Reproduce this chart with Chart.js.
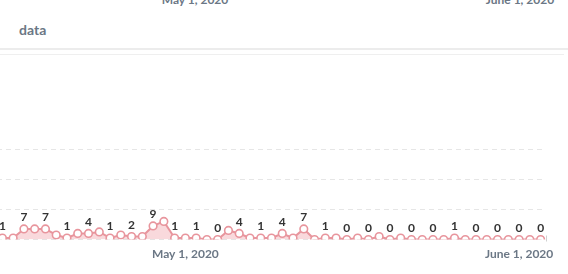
<!DOCTYPE html>
<html>
<head>
<meta charset="utf-8">
<script src="https://cdn.jsdelivr.net/npm/chart.js@4/dist/chart.umd.min.js"></script>
<style>
  html, body { margin:0; padding:0; background:#fff; width:568px; height:274px; overflow:hidden; position:relative; font-family: Lato, sans-serif; }
  .toplbl { position:absolute; top:-8px; font: bold 12px Lato, sans-serif; color:#6b7785; transform:translateX(-50%); white-space:nowrap; line-height:15px; }
  .title { position:absolute; left:19px; top:21px; font: bold 14px Lato, sans-serif; color:#6b7785; line-height:18px; }
  .rule1 { position:absolute; left:0; top:48px; width:568px; height:2px; background:#ececec; }
  .rule2 { position:absolute; left:0; top:54px; width:564px; height:1px; background:#efefef; }
  #c { position:absolute; left:-20px; top:56px; }
</style>
</head>
<body>
<div class="toplbl" style="left:195px">May 1, 2020</div>
<div class="toplbl" style="left:520px">June 1, 2020</div>
<div class="title">data</div>
<div class="rule1"></div>
<div class="rule2"></div>
<canvas id="c" width="600" height="218"></canvas>
<script>
// Categories: one per day
const dates = [
  '2020-04-14','2020-04-15','2020-04-16','2020-04-17','2020-04-18','2020-04-19','2020-04-20',
  '2020-04-21','2020-04-22','2020-04-23','2020-04-24','2020-04-25','2020-04-26','2020-04-27',
  '2020-04-28','2020-04-29','2020-04-30','2020-05-01','2020-05-02','2020-05-03','2020-05-04',
  '2020-05-05','2020-05-06','2020-05-07','2020-05-08','2020-05-09','2020-05-10','2020-05-11',
  '2020-05-12','2020-05-13','2020-05-14','2020-05-15','2020-05-16','2020-05-17','2020-05-18',
  '2020-05-19','2020-05-20','2020-05-21','2020-05-22','2020-05-23','2020-05-24','2020-05-25',
  '2020-05-26','2020-05-27','2020-05-28','2020-05-29','2020-05-30','2020-05-31','2020-06-01',
  '2020-06-02','2020-06-03'
];
// Series values
const values = [
  1,1,7,7,7,3,1,4,4,5,
  1,3,2,2,9,12,1,1,1,0,
  0,6,4,1,1,1,4,1,7,0,
  1,1,0,1,0,2,0,1,0,0,
  0,0,1,0,0,0,0,0,0,0,0
];
// Tick labels
const tickDates = ['2020-05-01', '2020-06-01'];
const tickLabels = ['May 1, 2020', 'June 1, 2020'];
const yMin = 0, yMax = 60, yStep = 20;

const labelPlugin = {
  id: 'pointLabels',
  afterDatasetsDraw(chart) {
    const ctx = chart.ctx;
    const meta = chart.getDatasetMeta(0);
    const area = chart.chartArea;
    ctx.save();
    // small end mark at the right edge of the x axis
    ctx.strokeStyle = '#d0d0d0';
    ctx.lineWidth = 1;
    ctx.beginPath();
    ctx.moveTo(Math.round(area.right) + 0.5, area.bottom - 4);
    ctx.lineTo(Math.round(area.right) + 0.5, area.bottom + 2);
    ctx.stroke();

    ctx.font = 'bold 12px Lato, sans-serif';
    ctx.fillStyle = '#333';
    ctx.textAlign = 'center';
    ctx.textBaseline = 'middle';
    let lastRight = -Infinity;
    meta.data.forEach((pt, i) => {
      const t = String(values[i]);
      const w = ctx.measureText(t).width;
      const pad = 4;
      const l = pt.x - w / 2 - pad, r = pt.x + w / 2 + pad;
      if (l < lastRight) return;
      lastRight = r;
      ctx.fillText(t, pt.x, pt.y - 11.5);
    });
    ctx.restore();
  }
};

new Chart(document.getElementById('c'), {
  type: 'line',
  data: {
    labels: dates,
    datasets: [{
      data: values,
      borderColor: '#e8959d',
      backgroundColor: 'rgba(236,128,140,0.3)',
      fill: 'origin',
      borderWidth: 2,
      tension: 0,
      pointRadius: 3.8,
      pointBorderWidth: 1.6,
      pointBackgroundColor: '#fff',
      pointBorderColor: '#e8959d'
    }]
  },
  options: {
    responsive: false,
    animation: false,
    devicePixelRatio: 1,
    layout: { padding: { top: 93, left: 17, right: 34, bottom: 0 } },
    plugins: { legend: { display: false }, tooltip: { enabled: false } },
    scales: {
      x: {
        offset: true,
        grid: { display: false, drawTicks: false },
        border: { display: false },
        ticks: {
          autoSkip: false, maxRotation: 0, padding: 7,
          font: { family: 'Lato', size: 12, weight: 'bold' },
          color: '#6b7785',
          callback(v, i) { const k = tickDates.indexOf(dates[i]); return k >= 0 ? tickLabels[k] : ''; }
        },
        afterFit(s) { s.height = 34.5; }
      },
      y: {
        min: yMin, max: yMax,
        ticks: { display: false, stepSize: yStep },
        grid: { color: '#e6e6e6', drawTicks: false, lineWidth: 1 },
        border: { display: false, dash: [5, 4] },
        afterFit(s) { s.width = 0; }
      }
    }
  },
  plugins: [labelPlugin]
});
</script>
</body>
</html>
